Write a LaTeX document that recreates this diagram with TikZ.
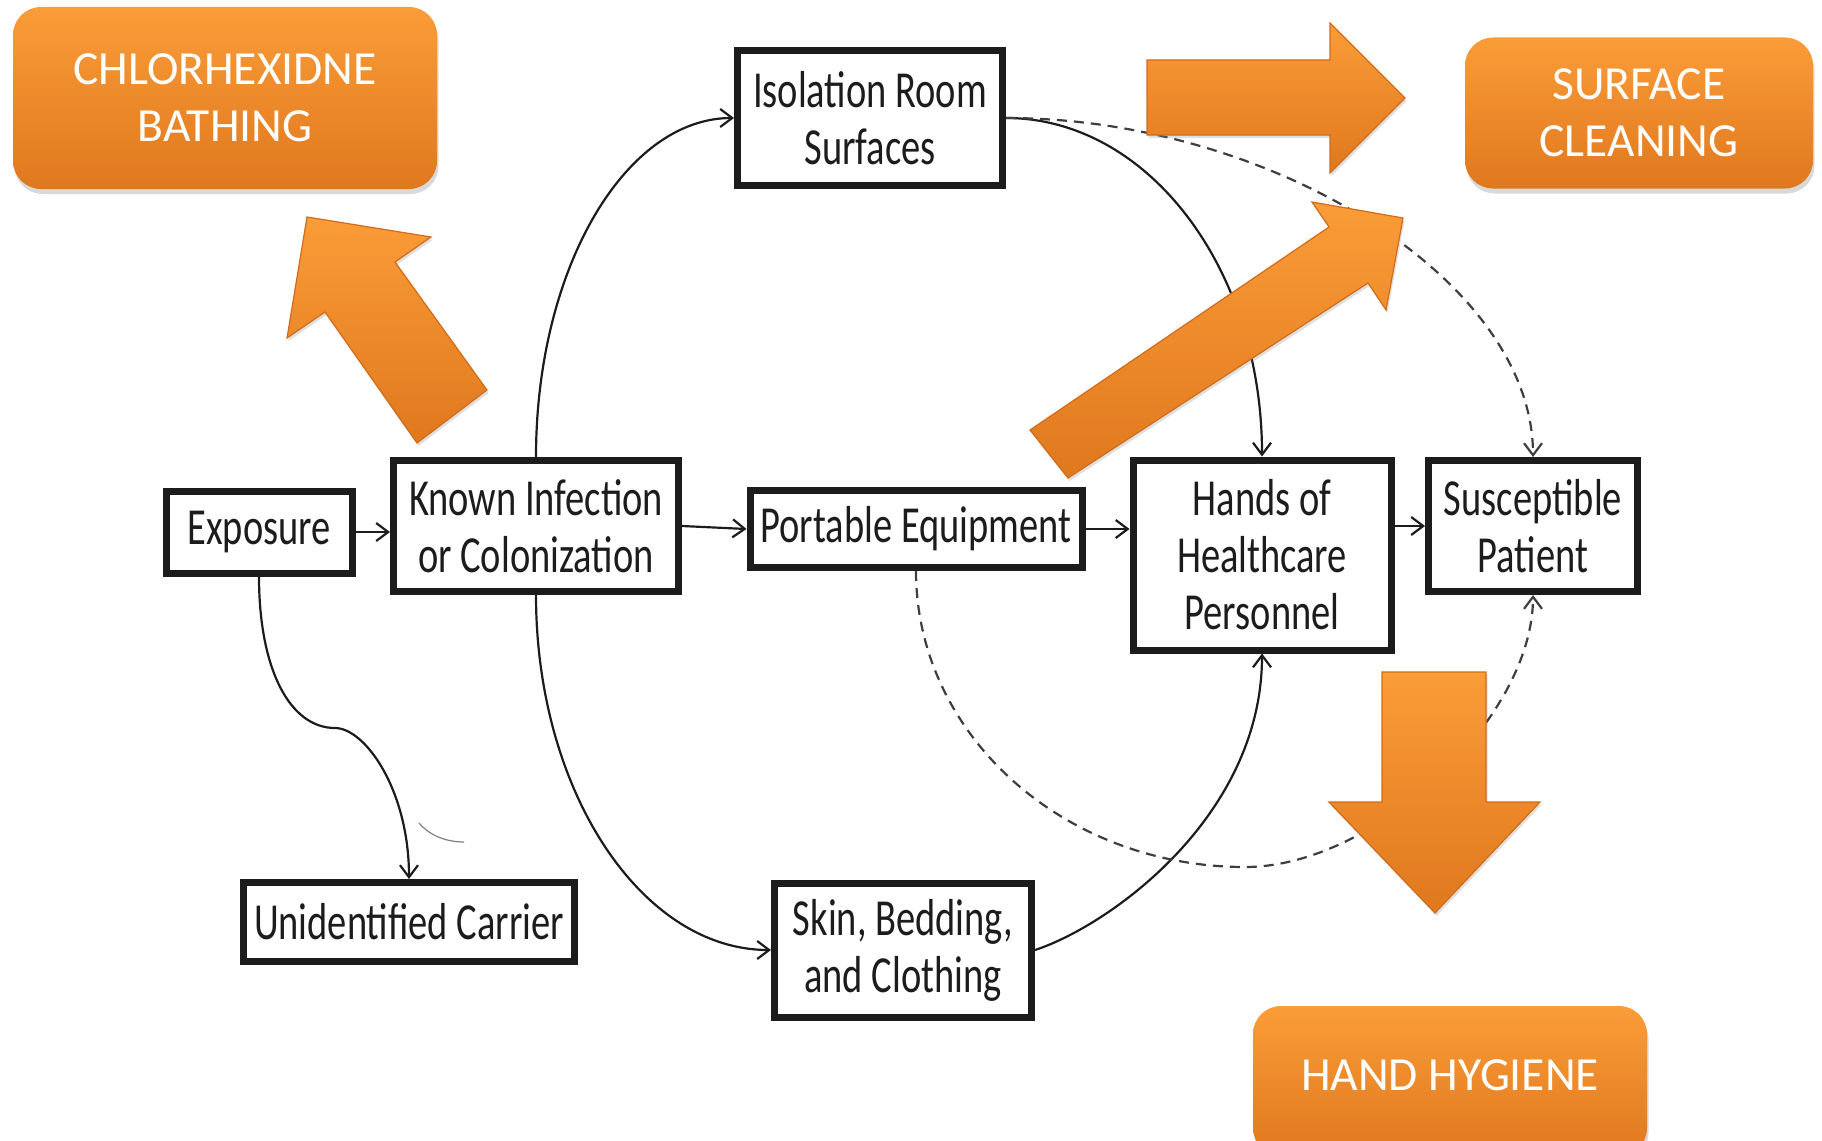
\documentclass[tikz,border=0pt]{standalone}
\usepackage{fontspec}
\setmainfont{Carlito}
\newfontfamily\boxfont[FakeStretch=0.74]{Carlito}
\usetikzlibrary{arrows.meta,shadows}

\definecolor{oTop}{RGB}{250,156,56}
\definecolor{oBot}{RGB}{224,120,30}
\definecolor{oEdge}{RGB}{210,108,26}
\definecolor{ink}{RGB}{28,28,28}

\begin{document}
\begin{tikzpicture}[x=1pt,y=-1pt,
  flowbox/.style={draw=ink, line width=7pt, fill=white, inner sep=0pt,
    align=center, text=ink, font=\boxfont\fontsize{52}{57}\selectfont},
  actionbox/.style={rounded corners=28pt, top color=oTop, bottom color=oBot,
    draw=none, text=white, inner sep=0pt,
    font=\fontsize{47.5}{57}\selectfont,
    drop shadow={opacity=0.3, shadow xshift=1.5pt, shadow yshift=-5pt}},
  bigarrow/.style={top color=oTop, bottom color=oBot, draw=oEdge,
    line width=1.2pt, line join=miter,
    drop shadow={opacity=0.25, shadow xshift=1.5pt, shadow yshift=-3pt}},
  conn/.style={draw=ink, line width=2.2pt,
    -{Straight Barb[length=12pt,width=18pt]}},
  maybe/.style={conn, draw=ink!85, dash pattern=on 10pt off 7pt}]

\useasboundingbox (0,0) rectangle (1822,1140);

% transmission pathway boxes
\node[flowbox, minimum width=186pt, minimum height=82pt]  (expo)  at (259,532)  {Exposure};
\node[flowbox, minimum width=285pt, minimum height=131pt] (known) at (536,526)  {Known Infection\\or Colonization};
\node[flowbox, minimum width=332pt, minimum height=77pt]  (pe)    at (916,529)  {Portable Equipment};
\node[flowbox, minimum width=258pt, minimum height=190pt] (hands) at (1262,555) {Hands of\\Healthcare\\Personnel};
\node[flowbox, minimum width=209pt, minimum height=131pt] (sp)    at (1533,526) {Susceptible\\Patient};
\node[flowbox, minimum width=331pt, minimum height=79pt]  (uc)    at (409,922)  {Unidentified Carrier};
\node[flowbox, minimum width=257pt, minimum height=134pt] (skin)  at (903,950)  {Skin, Bedding,\\and Clothing};
\node[flowbox, minimum width=265pt, minimum height=134pt] (iso)   at (870,118)  {Isolation Room\\Surfaces};

% straight links along the main row
\draw[conn] (expo.east) -- (expo.east -| known.west);
\draw[conn] (known.east) -- (pe.west);
\draw[conn] (pe.east) -- (pe.east -| hands.west);
\draw[conn] (sp.west -| hands.east) -- (sp.west);

% curved links
\draw[conn] (known.north) .. controls +(0,-188) and +(-109,0) .. (iso.west);
\draw[conn] (iso.east) .. controls +(142,0) and +(0,-188) .. (hands.north);
\draw[maybe] (iso.east) .. controls +(265,0) and +(0,-177) .. (sp.north);
\draw[conn] (known.south) .. controls +(0,197) and +(-129,0) .. (skin.west);
\draw[conn] (skin.east) .. controls +(76,-25) and +(0,162) .. (hands.south);

\coordinate (dip) at (1245,867);
\draw[maybe] (pe.south) .. controls +(0,163) and +(-182,0) .. (dip)
             .. controls +(130,0) and +(0,123) .. (sp.south);

\coordinate (kink) at (335,728);
\draw[conn] (expo.south) .. controls +(0,93) and +(-45,0) .. (kink)
            .. controls +(30,0) and +(0,-89) .. (uc.north);
\draw[black!50, line width=1.2pt] (419,823) .. controls (430,836) and (447,842) .. (464,842);

% intervention arrows
\path[bigarrow] (307,217) -- (431,237) -- (395,262) -- (487,390) -- (417,443)
  -- (325,312) -- (287,338) -- cycle;
\path[bigarrow] (1147,60) -- (1330,60) -- (1330,23) -- (1405,98) -- (1330,173)
  -- (1330,135) -- (1147,135) -- cycle;
\path[bigarrow] (1030,430) -- (1329,227) -- (1312,202) -- (1403,218) -- (1386,310)
  -- (1368,283) -- (1068,478) -- cycle;
\path[bigarrow] (1382,672) -- (1486,672) -- (1486,802) -- (1540,802) -- (1435,913)
  -- (1329,802) -- (1382,802) -- cycle;

% interventions
\node[actionbox, align=center, minimum width=424pt, minimum height=182pt] (chg) at (225,98)
  {CHLORHEXIDNE\\BATHING};
\node[actionbox, align=center, minimum width=348pt, minimum height=151pt] (sc) at (1639,113)
  {SURFACE\\CLEANING};
\node[actionbox, minimum width=394pt, minimum height=150pt, text depth=12pt] (hh) at (1450,1081)
  {HAND HYGIENE};
\end{tikzpicture}
\end{document}
